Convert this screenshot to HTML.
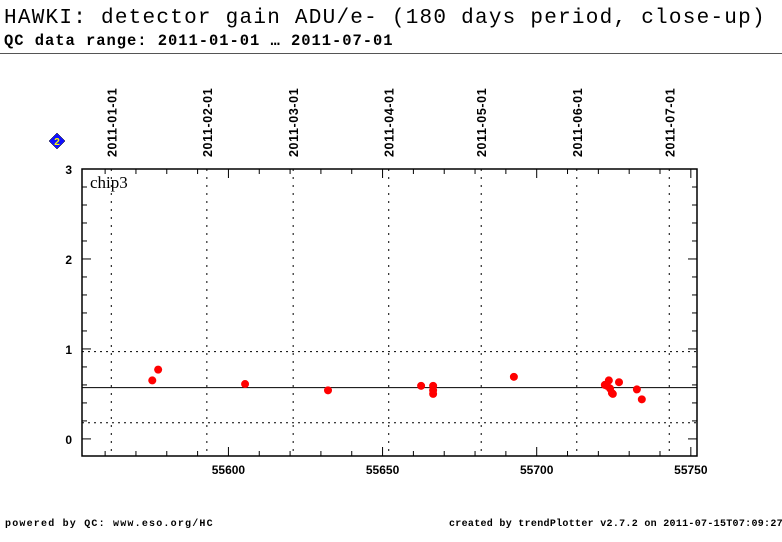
<!DOCTYPE html>
<html><head><meta charset="utf-8"><style>
body{margin:0;background:#fff;width:782px;height:542px;overflow:hidden;position:relative;font-family:"Liberation Mono",monospace}
.t{position:absolute;white-space:nowrap;color:#000}
</style></head><body>
<div class="t" style="left:4px;top:7px;font-size:21px;letter-spacing:1.25px">HAWKI: detector gain ADU/e- (180 days period, close-up)</div>
<div class="t" style="left:4px;top:32px;font-size:15.5px;font-weight:bold;letter-spacing:0.95px">QC data range: 2011-01-01 … 2011-07-01</div>
<div style="position:absolute;left:0;top:53px;width:782px;height:1px;background:#555"></div>
<svg id="chart" width="782" height="542" style="position:absolute;left:0;top:0" xmlns="http://www.w3.org/2000/svg"></svg>
<div class="t" style="left:5px;top:519px;font-size:10px;font-weight:bold;letter-spacing:1.2px">powered by QC: www.eso.org/HC</div>
<div class="t" style="left:449px;top:519px;font-size:10px;font-weight:bold;letter-spacing:0.3px">created by trendPlotter v2.7.2 on 2011-07-15T07:09:27</div>
<script>
const mjd=[55575.3,55577.2,55605.4,55632.3,55662.5,55666.4,55666.4,55666.4,55692.6,55722.1,55722.8,55723.4,55723.8,55724.4,55724.7,55726.7,55732.5,55734.1];
const gain=[0.65,0.77,0.61,0.54,0.59,0.59,0.54,0.50,0.69,0.60,0.59,0.65,0.56,0.51,0.50,0.63,0.55,0.44];
const xTicks=[55600,55650,55700,55750];
const yTicks=[0,1,2,3];
const dateMjd=[55562,55593,55621,55652,55682,55713,55743];
const dateLabels=["2011-01-01","2011-02-01","2011-03-01","2011-04-01","2011-05-01","2011-06-01","2011-07-01"];
const meanVal=0.57, upperLim=0.97, lowerLim=0.18;
const NS="http://www.w3.org/2000/svg";
const svg=document.getElementById('chart');
const L=82,R=697,T=169,B=456;
const xmin=55552.5,xmax=55752,ymin=-0.19,ymax=3.0;
const X=v=>L+(v-xmin)/(xmax-xmin)*(R-L);
const Y=v=>T+(ymax-v)/(ymax-ymin)*(B-T);
function mk(tag,attrs,name){const e=document.createElementNS(NS,tag);for(const k in attrs)e.setAttribute(k,attrs[k]);


svg.appendChild(e);return e;}
dateMjd.forEach((d,i)=>{const x=X(d);
mk('line',{x1:x,x2:x,y1:T,y2:B,stroke:'#000','stroke-width':1,'stroke-dasharray':'2,6'},'date-gridline');
const t=mk('text',{x:0,y:0,'font-family':'Liberation Sans, sans-serif','font-size':12.5,'font-weight':'bold','letter-spacing':'0.6',transform:`translate(${x+5},${157}) rotate(-90)`},'date-label');t.textContent=dateLabels[i];});
[upperLim,lowerLim].forEach(v=>mk('line',{x1:L,x2:R,y1:Y(v),y2:Y(v),stroke:'#000','stroke-width':1,'stroke-dasharray':'2,4'},'limit-line'));
mk('line',{x1:L,x2:R,y1:Y(meanVal),y2:Y(meanVal),stroke:'#000','stroke-width':1},'mean-line');
mk('rect',{x:L,y:T,width:R-L,height:B-T,fill:'none',stroke:'#000','stroke-width':1.5},'plot-frame');
for(let v=55560;v<=55750;v+=10){const x=X(v);const maj=v%50===0;
mk('line',{x1:x,x2:x,y1:B,y2:B-(maj?9:5),stroke:'#000'},'x-tick');
mk('line',{x1:x,x2:x,y1:T,y2:T+(maj?9:5),stroke:'#000'},'x-tick-top');}
xTicks.forEach(v=>{const t=mk('text',{x:X(v),y:B+18,'text-anchor':'middle','font-family':'Liberation Sans, sans-serif','font-size':12,'font-weight':'bold'},'x-tick-label');t.textContent=v;});
for(let k=-1;k<=15;k++){const v=k*0.2;if(v<ymin||v>ymax+1e-6)continue;const y=Y(v);const maj=Math.abs(v-Math.round(v))<1e-6;
mk('line',{x1:L,x2:L+(maj?9:5),y1:y,y2:y,stroke:'#000'},'y-tick');
mk('line',{x1:R,x2:R-(maj?9:5),y1:y,y2:y,stroke:'#000'},'y-tick-right');}
yTicks.forEach(v=>{const t=mk('text',{x:L-10,y:Y(v)+5,'text-anchor':'end','font-family':'Liberation Sans, sans-serif','font-size':12,'font-weight':'bold'},'y-tick-label');t.textContent=v;});
const c=mk('text',{x:L+8,y:T+19,'font-family':'Liberation Serif, serif','font-size':17},'chip-label');c.textContent='chip3';
mk('polygon',{points:'57,133 65,141 57,149 49,141',fill:'#1010ff',stroke:'#000','stroke-width':0.5},'info-badge');
const b=mk('text',{x:57,y:145,'text-anchor':'middle','font-family':'Liberation Sans, sans-serif','font-size':10,'font-weight':'bold',fill:'#ff0'},'info-badge-text');b.textContent='2';
mjd.forEach((d,i)=>mk('circle',{cx:X(d),cy:Y(gain[i]),r:4,fill:'#ff0000'},'data-point'));
</script>
</body></html>
